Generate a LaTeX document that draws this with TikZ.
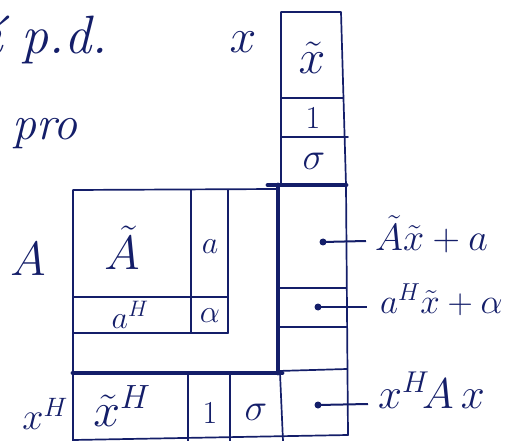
\RequirePackage{fix-cm}
\documentclass[tikz,border=0pt]{standalone}
\usepackage{amsmath}
\definecolor{ink}{RGB}{20,30,105}
\begin{document}
\begin{tikzpicture}[x=1pt,y=-1pt,
  thinline/.style={line width=1.7pt, draw=ink, line cap=round, line join=round},
  heavyline/.style={line width=4.8pt, draw=ink, line cap=round, line join=round},
  lab/.style={text=ink, inner sep=0pt},
  big/.style={lab, font=\fontsize{48}{52}\selectfont},
  mid/.style={lab, font=\fontsize{38}{42}\selectfont},
  small/.style={lab, font=\fontsize{32}{36}\selectfont},
  dotstyle/.style={circle, fill=ink, inner sep=0pt, minimum size=7pt},
  conn/.style={line width=2pt, draw=ink}]
\useasboundingbox (0,0) rectangle (512,441);

% --- vector x column on top
\draw[thinline] (281,185) -- (281,12) -- (341,12) -- (346,185);
\draw[thinline] (281,98) -- (343,98);
\draw[thinline] (281,137) -- (348,137);

% --- matrix A
\draw[thinline] (277,189) -- (73,190) -- (73,441);
\draw[thinline] (191,190) -- (191,333);
\draw[thinline] (228,190) -- (228,333);
\draw[thinline] (73,297) -- (228,297);
\draw[thinline] (73,333) -- (228,333);

% --- bottom row x^H
\draw[thinline] (188,373) -- (188,441);
\draw[thinline] (230,373) -- (230,441);
\draw[thinline] (280,373) -- (283,441);
\draw[thinline] (73,440) -- (348,435);

% --- right column A x
\draw[thinline] (346,185) -- (348,435);
\draw[thinline] (278,288) -- (346,288);
\draw[thinline] (278,327) -- (347,327);
\draw[thinline] (278,371) -- (347,369);

% --- heavy L
\draw[heavyline] (268,185) -- (346,185);
\draw[heavyline] (278,185) -- (278,373);
\draw[heavyline] (73,373) -- (282,373);

% --- texts at top left
\node[lab, anchor=base west, font=\fontsize{54}{58}\selectfont\itshape] (pd) at (-14,54) {í p.d.};
\node[lab, anchor=base west, font=\fontsize{48}{52}\selectfont\itshape] (pro) at (12,140) {pro};

% --- labels
\node[big] (xlab) at (243,42) {$x$};
\node[big] (xt) at (312,58) {$\tilde{x}$};
\node[small] (one) at (313,118) {$1$};
\node[mid] (sig) at (314,161) {$\sigma$};

\node[big] (Alab) at (28,259) {$A$};
\node[big] (At) at (122,248) {$\tilde{A}$};
\node[small] (acol) at (210,247) {$a$};
\node[small] (aH) at (130,315) {$a^{H}$};
\node[small] (alpha) at (210,316) {$\alpha$};

\node[mid] (xH) at (45,414) {$x^{H}$};
\node[big] (xtH) at (122,406) {$\tilde{x}^{H}$};
\node[small] (oneb) at (210,413) {$1$};
\node[mid] (sigb) at (256,412) {$\sigma$};

\node[mid, anchor=west] (r1) at (375,234) {$\tilde{A}\tilde{x}+a$};
\node[lab, font=\fontsize{35}{39}\selectfont, anchor=west] (r2) at (380,300) {$a^{H}\tilde{x}+\alpha$};
\node[lab, font=\fontsize{43}{47}\selectfont, anchor=west] (r3) at (378,390) {$x^{H}\!A\,x$};

% --- connectors
\node[dotstyle] (d1) at (323,242) {};
\node[dotstyle] (d2) at (318,307) {};
\node[dotstyle] (d3) at (318,405) {};
\coordinate (e1) at (366,241);
\coordinate (e2) at (367,307);
\coordinate (e3) at (368,404);
\draw[conn] (d1.center) -- (e1);
\draw[conn] (d2.center) -- (e2);
\draw[conn] (d3.center) -- (e3);
\end{tikzpicture}
\end{document}
